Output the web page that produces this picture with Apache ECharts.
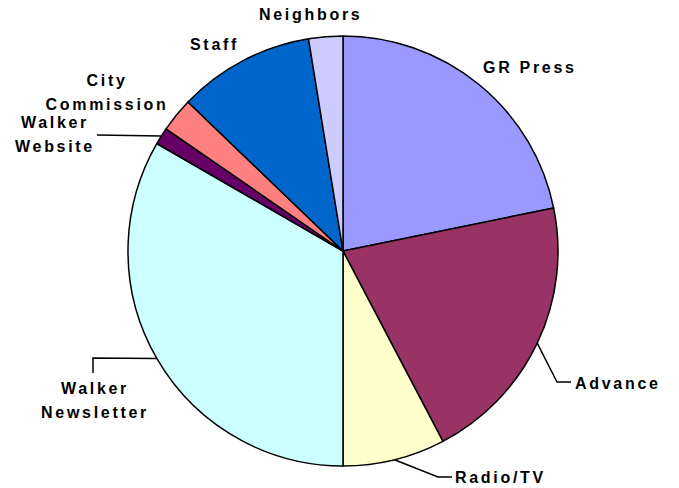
<!DOCTYPE html>
<html>
<head>
<meta charset="utf-8">
<script src="https://cdn.jsdelivr.net/npm/echarts@6/dist/echarts.min.js"></script>
<style>
  html, body { margin: 0; padding: 0; background: #fff; }
  #chart { width: 679px; height: 488px; }
  /* the original labels are letter-spaced */
  #chart text { letter-spacing: 2.7px; }
</style>
</head>
<body>
<div id="chart"></div>
<script>
// sources of information (clockwise from 12 o'clock)
var sources = ['GR Press', 'Advance', 'Radio/TV', 'Walker Newsletter', 'Walker Website', 'City Commission', 'Staff', 'Neighbors'];
var counts = [17, 16, 6, 26, 1, 2, 8, 2];
var colors = ['#9999FF', '#993366', '#FFFFCC', '#CCFFFF', '#660066', '#FF8080', '#0066CC', '#CCCCFF'];

// where each label sits, and the elbow points of its leader line
var labelPlace = {
    'GR Press':          { x: 483, y: 67,  align: 'left' },
    'Advance':           { x: 575, y: 383, align: 'left', line: [[557, 382], [571, 382]] },
    'Radio/TV':          { x: 455, y: 477, align: 'left', line: [[438, 477], [452, 477]] },
    'Walker Newsletter': { x: 95,  y: 400, align: 'center', line: [[93, 358], [93, 373]], wrap: true },
    'Walker Website':    { x: 55,  y: 134, align: 'center', line: [[97, 135]], wrap: true },
    'City Commission':   { x: 107, y: 92,  align: 'center', wrap: true },
    'Staff':             { x: 190, y: 44,  align: 'left' },
    'Neighbors':         { x: 259, y: 14,  align: 'left' }
};

var chart = echarts.init(document.getElementById('chart'), null, { renderer: 'svg' });

var pieData = [];
for (var i = 0; i < sources.length; i++) {
    pieData.push({
        name: sources[i],
        value: counts[i],
        itemStyle: { color: colors[i] },
        labelLine: { show: !!labelPlace[sources[i]].line }
    });
}

var option = {
    backgroundColor: '#ffffff',
    animation: false,
    series: [
        {
            type: 'pie',
            center: [343, 251],
            radius: 215,
            startAngle: 90,
            clockwise: true,
            avoidLabelOverlap: false,
            data: pieData,
            itemStyle: {
                borderColor: '#000',
                borderWidth: 1.5
            },
            label: {
                show: true,
                position: 'outside',
                color: '#000',
                fontFamily: '"Liberation Sans", Arial, sans-serif',
                fontWeight: 'bold',
                fontSize: 16,
                lineHeight: 24,
                formatter: function (p) {
                    return labelPlace[p.name].wrap ? p.name.replace(' ', '\n') : p.name;
                }
            },
            labelLine: {
                lineStyle: { color: '#000', width: 1.5 }
            },
            emphasis: { disabled: true },
            labelLayout: function (params) {
                var place = labelPlace[sources[params.dataIndex]];
                var res = {
                    x: place.x,
                    y: place.y,
                    align: place.align,
                    verticalAlign: 'middle'
                };
                if (place.line && params.labelLinePoints) {
                    res.labelLinePoints = [params.labelLinePoints[0]].concat(place.line);
                }
                return res;
            }
        }
    ]
};
chart.setOption(option);
</script>
</body>
</html>
